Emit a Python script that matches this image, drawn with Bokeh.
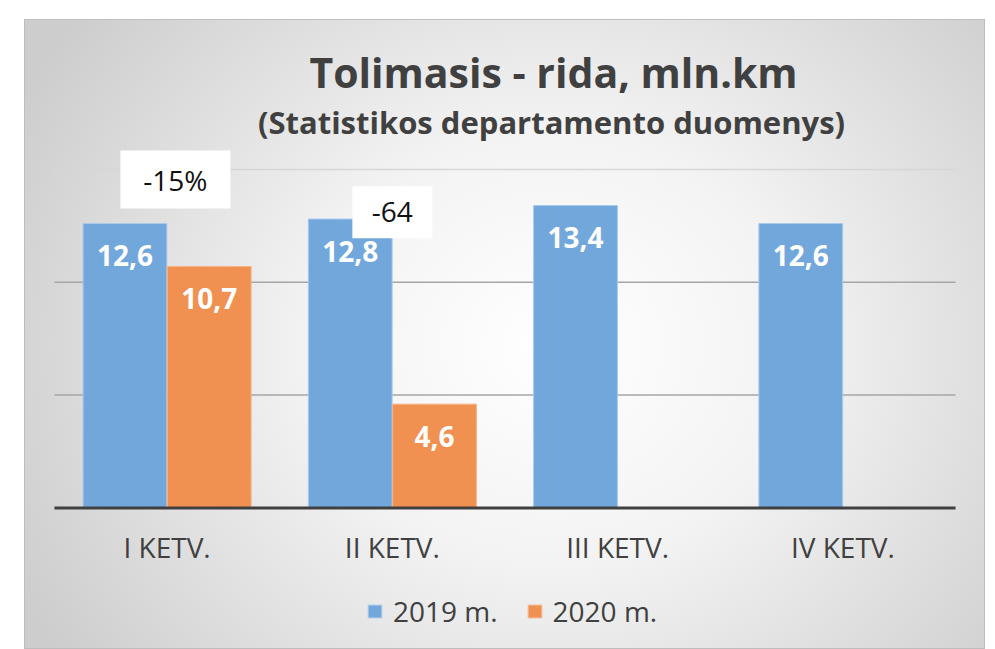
from bokeh.plotting import figure
from bokeh.models import (FactorRange, Range1d, ColumnDataSource, Label, Legend,
                          LegendItem)
from bokeh.transform import dodge
from bokeh.core.properties import value
from bokeh.embed import file_html
from bokeh.resources import INLINE

# ---- data ----
quarters = ["I KETV.", "II KETV.", "III KETV.", "IV KETV."]
values_2019 = [12.6, 12.8, 13.4, 12.6]
quarters_2020 = ["I KETV.", "II KETV."]
values_2020 = [10.7, 4.6]
series_names = ["2019 m.", "2020 m."]
grid_levels = [5, 10, 15]
title_text = "Tolimasis - rida, mln.km"
subtitle_text = "(Statistikos departamento duomenys)"
note_quarters = ["I KETV.", "II KETV."]
note_texts = ["-15%", "-64"]
note_levels = [14.55, 13.1]

# ---- styles ----
FONT = "Open Sans"
BLUE = "#71A7DB"
ORANGE = "#F09152"
TXT = "#404040"
note_shift = [0.037, 0.0]
note_box = [(110, 58), (80, 52)]
grid_colors = ["#a6a6a6", "#a6a6a6", "#d6d6d6"]


def fmt(v):
    return f"{v:.1f}".replace(".", ",")


src19 = ColumnDataSource(dict(q=quarters, v=values_2019, lbl=[fmt(v) for v in values_2019]))
src20 = ColumnDataSource(dict(q=quarters_2020, v=values_2020, lbl=[fmt(v) for v in values_2020]))

p = figure(
    x_range=FactorRange(factors=quarters, range_padding=0.133, range_padding_units="absolute"),
    y_range=Range1d(-6.27, 21.64),
    width=961, height=630,
    output_backend="svg", toolbar_location=None,
    min_border_left=0, min_border_right=0, min_border_top=0, min_border_bottom=0,
    margin=(19, 0, 0, 24),
    styles={
        "background": "radial-gradient(ellipse 600px 540px at 55% 52%, #ffffff 0%, #f3f3f3 40%, #cdcdcd 100%)",
        "box-shadow": "inset 0 0 0 1px #bdbdbd",
    },
)
p.border_fill_color = None
p.background_fill_color = None
p.outline_line_color = None
p.xgrid.visible = False
p.ygrid.visible = False
p.yaxis.visible = False

# grid lines across the category span
n = len(quarters)
p.segment(x0=[0] * len(grid_levels), x1=[n] * len(grid_levels), y0=grid_levels,
          y1=grid_levels, line_color=grid_colors, line_width=1.5)

# x axis drawn at zero
ax = p.xaxis[0]
ax.fixed_location = 0
ax.axis_line_color = None
ax.major_tick_line_color = None
ax.minor_tick_line_color = None
ax.major_label_text_font = FONT
ax.major_label_text_font_size = "28px"
ax.major_label_text_color = TXT
ax.major_label_standoff = 14

# bars
r19 = p.vbar(x=dodge("q", -0.187, range=p.x_range), top="v", width=0.372, source=src19,
             fill_color=BLUE, line_color="#a9cbeb", line_width=1)
r20 = p.vbar(x=dodge("q", 0.187, range=p.x_range), top="v", width=0.372, source=src20,
             fill_color=ORANGE, line_color="#f5b48a", line_width=1)

# axis baseline
p.segment(x0=[0], x1=[n], y0=[0], y1=[0], line_color="#404040", line_width=3)

# data labels
for src, off in ((src19, -0.187), (src20, 0.187)):
    p.text(x=dodge("q", off, range=p.x_range), y="v", text="lbl", source=src,
           text_align="center", text_baseline="middle", y_offset=32,
           text_color="white", text_font=value(FONT), text_font_style="bold",
           text_font_size="28px")

# notes (white boxes with text)
for i in range(len(note_texts)):
    s = ColumnDataSource(dict(q=[note_quarters[i]], y=[note_levels[i]], t=[note_texts[i]]))
    p.rect(x=dodge("q", note_shift[i], range=p.x_range), y="y", width=note_box[i][0],
           height=note_box[i][1], width_units="screen", height_units="screen",
           source=s, fill_color="white", line_color=None)
    p.text(x=dodge("q", note_shift[i], range=p.x_range), y="y", text="t", source=s,
           text_align="center", text_baseline="middle", text_color="#111111",
           text_font=value(FONT), text_font_size="28px")

# titles
p.add_layout(Label(x=529, y=578, x_units="screen", y_units="screen", text=title_text,
                   text_align="center", text_baseline="alphabetic", text_font=FONT,
                   text_font_style="bold", text_font_size="41px", text_color=TXT))
p.add_layout(Label(x=527, y=528, x_units="screen", y_units="screen", text=subtitle_text,
                   text_align="center", text_baseline="alphabetic", text_font=FONT,
                   text_font_style="bold", text_font_size="31px", text_color=TXT))

# legend
legend = Legend(items=[LegendItem(label=series_names[0], renderers=[r19]),
                       LegendItem(label=series_names[1], renderers=[r20])],
                orientation="horizontal", location=(342, 19),
                glyph_width=17, glyph_height=16, label_standoff=10, spacing=28,
                padding=0, margin=0, background_fill_alpha=0, border_line_color=None,
                label_text_font=FONT, label_text_font_size="28px", label_text_color=TXT)
p.add_layout(legend)

open("out.html", "w").write(file_html(p, INLINE))
